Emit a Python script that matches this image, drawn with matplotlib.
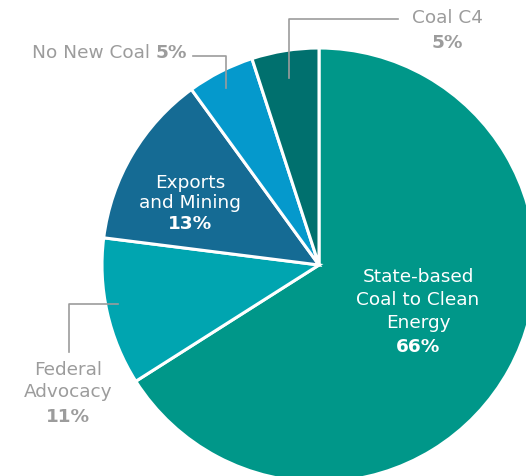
import matplotlib.pyplot as plt

# campaign share of funding
labels = ['State-based\nCoal to Clean\nEnergy', 'Federal\nAdvocacy', 'Exports\nand Mining', 'No New Coal', 'Coal C4']
shares = [66, 11, 13, 5, 5]
colors = ['#009789', '#00a5b0', '#156b94', '#0599cc', '#00706e']

W, H = 526, 476
GRAY = '#9c9c9c'
FONT = 'DejaVu Sans'

fig = plt.figure(figsize=(W / 100, H / 100), dpi=100)
ax = fig.add_axes([0, 0, 1, 1])

# pixel coords -> data coords (y flipped)
def py(y):
    return H - y

ax.pie(shares, colors=colors, startangle=90, counterclock=False,
       center=(319, py(265)), radius=217,
       wedgeprops=dict(edgecolor='white', linewidth=2.2))
ax.set_xlim(0, W)
ax.set_ylim(0, H)
ax.set_aspect('equal')
ax.axis('off')

fs = 13.3

# inside labels
ax.text(418, py(300), labels[0], color='white', fontsize=fs, family=FONT,
        ha='center', va='center', linespacing=1.38)
ax.text(418, py(347), f'{shares[0]}%', color='white', fontsize=fs, family=FONT,
        fontweight='bold', ha='center', va='center')
ax.text(190, py(193), labels[2], color='white', fontsize=fs, family=FONT,
        ha='center', va='center', linespacing=1.15)
ax.text(190, py(224), f'{shares[2]}%', color='white', fontsize=fs, family=FONT,
        fontweight='bold', ha='center', va='center')

# outside labels
ax.text(68, py(381), labels[1], color=GRAY, fontsize=fs, family=FONT,
        ha='center', va='center', linespacing=1.3)
ax.text(68, py(417), f'{shares[1]}%', color=GRAY, fontsize=fs, family=FONT,
        fontweight='bold', ha='center', va='center')
ax.plot([118, 69, 69], [py(304), py(304), py(352)], color=GRAY, lw=1.2)

ax.text(447, py(18), labels[4], color=GRAY, fontsize=fs, family=FONT,
        ha='center', va='center')
ax.text(447, py(43), f'{shares[4]}%', color=GRAY, fontsize=fs, family=FONT,
        fontweight='bold', ha='center', va='center')
ax.plot([289, 289, 398], [py(78), py(19), py(19)], color=GRAY, lw=1.2)

pct = ax.text(187, py(53), f'{shares[3]}%', color=GRAY, fontsize=fs, family=FONT,
              fontweight='bold', ha='right', va='center')
fig.canvas.draw()
bb = pct.get_window_extent()
x0 = ax.transData.inverted().transform((bb.x0, bb.y0))[0]
ax.text(x0, py(53), labels[3] + ' ', color=GRAY, fontsize=fs, family=FONT,
        ha='right', va='center')
ax.plot([193, 226, 226], [py(56), py(56), py(88)], color=GRAY, lw=1.2)

fig.savefig('out.png', dpi=100)
